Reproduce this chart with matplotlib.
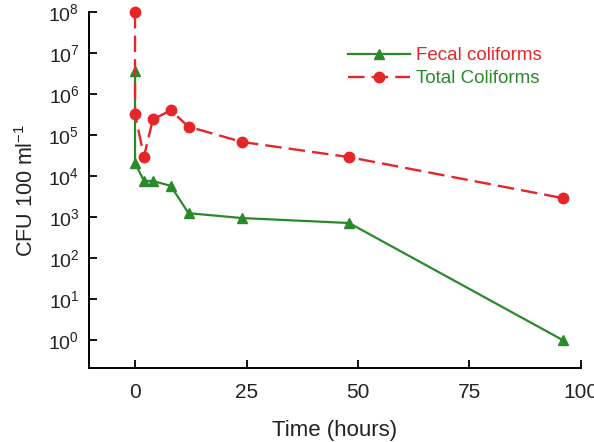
import matplotlib.pyplot as plt

plt.rcParams["font.family"] = ["Liberation Sans", "DejaVu Sans"]
plt.rcParams["mathtext.default"] = "regular"

# Data
time_fecal = [0, 0, 2, 4, 8, 12, 24, 48, 96]
fecal = [3.6e6, 2.1e4, 7.6e3, 7.6e3, 5.8e3, 1.25e3, 9.5e2, 7.2e2, 1.0]

time_total = [0, 0, 2, 4, 8, 12, 24, 48, 96]
total = [1.0e8, 3.2e5, 3.0e4, 2.4e5, 4.0e5, 1.6e5, 6.8e4, 2.9e4, 2.9e3]

green = "#2a8a2a"
red = "#e52628"

fig = plt.figure(figsize=(5.94, 4.42), dpi=100)
ax = fig.add_axes([0.150, 0.167, 0.828, 0.806])

ax.plot(time_fecal, fecal, color=green, marker="^", markersize=6.5, linewidth=1.6,
        label="Fecal coliforms", clip_on=False)
ax.plot(time_total, total, color=red, marker="o", markersize=7.5, linewidth=1.7,
        linestyle=(0, (7, 3)), label="Total Coliforms", clip_on=False)

ax.set_yscale("log")
ax.set_xlim(-10.3, 100)
ax.set_ylim(10 ** -0.68, 10 ** 8)
ax.set_xticks([0, 25, 50, 75, 100])
ax.set_yticks([10 ** k for k in range(0, 9)])
ax.minorticks_off()

ax.spines["top"].set_visible(False)
ax.spines["right"].set_visible(False)
ax.spines["left"].set_linewidth(1.4)
ax.spines["bottom"].set_linewidth(1.4)
ax.tick_params(axis="x", direction="in", length=6, width=1.3, labelsize=15,
               pad=11, labelcolor="#222222")
ax.tick_params(axis="y", direction="in", length=6, width=1.3, labelsize=14,
               pad=7, labelcolor="#222222")

ax.set_xlabel("Time (hours)", fontsize=16, color="#222222")
ax.set_ylabel("CFU 100 ml$^{-1}$", fontsize=15.5, color="#222222")
ax.xaxis.set_label_coords(0.5, -0.145)
ax.yaxis.set_label_coords(-0.104, 0.5)

leg = ax.legend(loc="upper left", bbox_to_anchor=(348 / 594, 1 - 47 / 442),
                bbox_transform=fig.transFigure, frameon=False, borderpad=0,
                borderaxespad=0, fontsize=13.5, handlelength=3.3,
                handletextpad=0.35, labelspacing=0.33)
texts = leg.get_texts()
texts[0].set_color(red)
texts[1].set_color(green)

fig.savefig("out.png", dpi=100)
